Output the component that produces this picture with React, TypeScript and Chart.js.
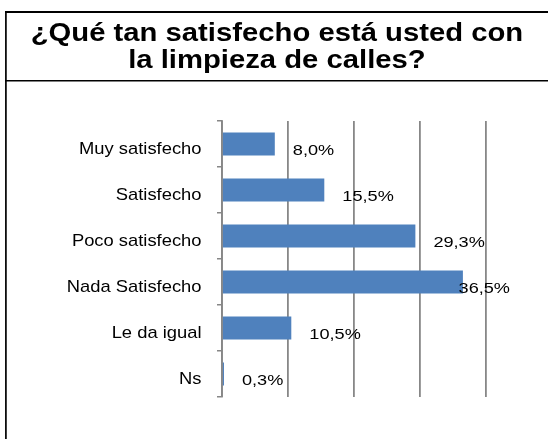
import React, { useEffect, useRef } from "react";
import { Chart, registerables } from "chart.js";

Chart.register(...registerables);

const TITLE_LINES = ["¿Qué tan satisfecho está usted con", "la limpieza de calles?"];
const CATEGORIES = ["Muy satisfecho", "Satisfecho", "Poco satisfecho", "Nada Satisfecho", "Le da igual", "Ns"];
const VALUES = [8.0, 15.5, 29.3, 36.5, 10.5, 0.3];
const X_MIN = 0;
const X_MAX = 40;
const X_STEP = 10;

const FONT = '"Liberation Sans", Arial, Helvetica, sans-serif';
const GRID = "#878787";
const BAR = "#4F81BD";

const W = 548;
const H = 439;

const fmt = (v: number) => v.toFixed(1).replace(".", ",") + "%";

// draw text horizontally stretched (the reference image is widened)
function stretchedText(ctx: CanvasRenderingContext2D, text: string, x: number, y: number, sx: number) {
  ctx.save();
  ctx.translate(x, y);
  ctx.scale(sx, 1);
  ctx.fillText(text, 0, 0);
  ctx.restore();
}

const framePlugin = {
  id: "frameAndLabels",
  beforeDraw(chart: any) {
    const ctx = chart.ctx;
    const w = chart.width;
    const h = chart.height;
    ctx.save();
    ctx.strokeStyle = "#000";
    ctx.lineWidth = 1.7;
    ctx.beginPath();
    ctx.moveTo(5.9, 11);
    ctx.lineTo(5.9, h);
    ctx.stroke();
    ctx.lineWidth = 2;
    ctx.beginPath();
    ctx.moveTo(5, 12);
    ctx.lineTo(w, 12);
    ctx.stroke();
    ctx.lineWidth = 1.5;
    ctx.beginPath();
    ctx.moveTo(5, 80.75);
    ctx.lineTo(w, 80.75);
    ctx.stroke();
    ctx.fillStyle = "#000";
    ctx.font = `bold 25px ${FONT}`;
    ctx.textAlign = "center";
    ctx.textBaseline = "alphabetic";
    const cx = (5.9 + w) / 2;
    stretchedText(ctx, TITLE_LINES[0], cx, 40.5, 1.17);
    stretchedText(ctx, TITLE_LINES[1], cx, 67.5, 1.17);
    ctx.restore();
  },
  afterDatasetsDraw(chart: any) {
    const ctx = chart.ctx;
    const meta = chart.getDatasetMeta(0);
    const area = chart.chartArea;
    const yScale = chart.scales.y;
    ctx.save();
    ctx.fillStyle = "#000";
    ctx.textBaseline = "alphabetic";
    // category labels
    ctx.font = `17px ${FONT}`;
    ctx.textAlign = "right";
    CATEGORIES.forEach((c, i) => {
      const y = yScale.getPixelForValue(i);
      stretchedText(ctx, c, area.left - 20.5, y + 9.5, 1.08);
    });
    // value labels
    ctx.font = `15px ${FONT}`;
    ctx.textAlign = "left";
    const sx = 1.21;
    meta.data.forEach((el: any, i: number) => {
      const text = fmt(VALUES[i]);
      const tw = ctx.measureText(text).width * sx;
      const tx = Math.min(el.x + 18, area.right + 24 - tw);
      stretchedText(ctx, text, tx, el.y + 10.5, sx);
    });
    ctx.restore();
  },
};

export default function App() {
  const ref = useRef<HTMLCanvasElement | null>(null);

  useEffect(() => {
    if (!ref.current) return;
    const chart = new Chart(ref.current, {
      type: "bar",
      data: {
        labels: CATEGORIES,
        datasets: [
          {
            data: VALUES,
            backgroundColor: BAR,
            borderWidth: 0,
            barPercentage: 0.5,
            categoryPercentage: 1.0,
          },
        ],
      },
      options: {
        indexAxis: "y",
        responsive: false,
        maintainAspectRatio: false,
        animation: false,
        layout: { padding: { top: 121, bottom: 42, left: 0, right: W - 486 } },
        plugins: {
          legend: { display: false },
          title: { display: false },
          tooltip: { enabled: false },
        },
        scales: {
          x: {
            type: "linear",
            min: X_MIN,
            max: X_MAX,
            ticks: { display: false, stepSize: X_STEP },
            grid: { color: GRID, lineWidth: 1.8, drawTicks: false },
            border: { display: false },
            afterFit: (s: any) => {
              s.height = 0;
            },
          },
          y: {
            type: "category",
            grid: {
              drawOnChartArea: false,
              drawTicks: true,
              tickLength: 5,
              color: GRID,
              lineWidth: 1.5,
              offset: true,
            },
            border: { display: true, color: GRID, width: 1.8 },
            ticks: { display: false },
            afterFit: (s: any) => {
              s.width = 222;
            },
          },
        },
      } as any,
      plugins: [framePlugin],
    });
    return () => chart.destroy();
  }, []);

  return (
    <div
      style={{
        position: "fixed",
        left: 0,
        top: 0,
        width: W,
        height: H,
        overflow: "hidden",
        background: "#fff",
      }}
    >
      <canvas ref={ref} width={W} height={H} style={{ display: "block", width: W, height: H }} />
    </div>
  );
}
